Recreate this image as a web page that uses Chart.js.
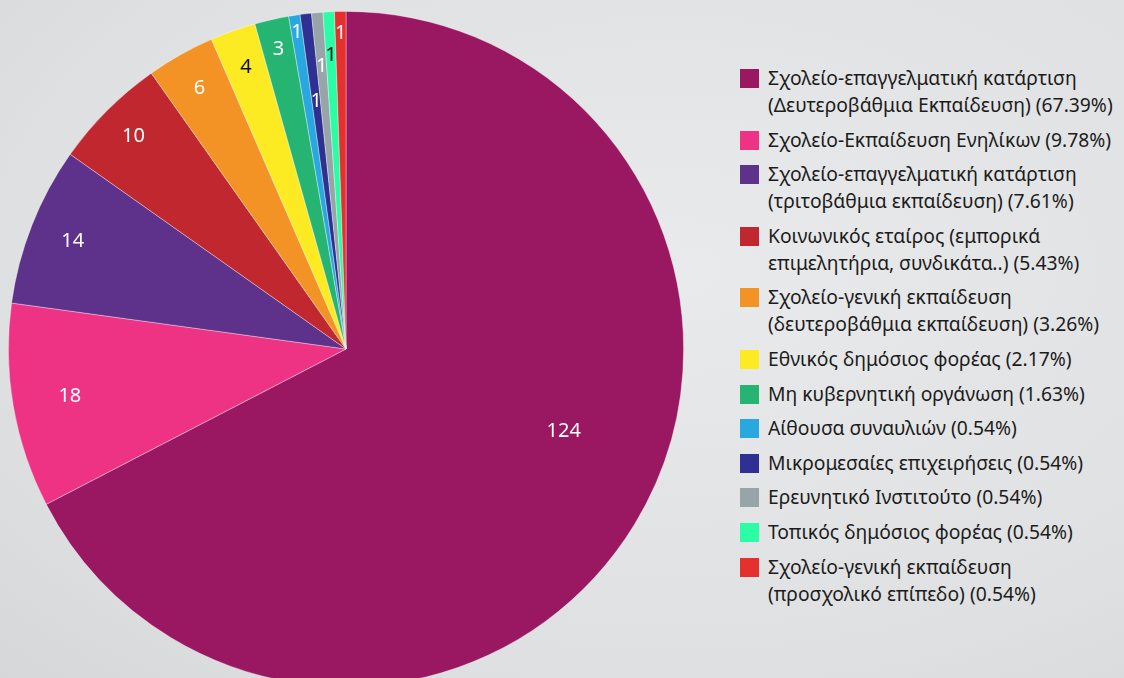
<!DOCTYPE html>
<html>
<head>
<meta charset="utf-8">
<script src="https://cdn.jsdelivr.net/npm/chart.js@4"></script>
<style>
  html,body{margin:0;padding:0;}
  body{width:1124px;height:678px;overflow:hidden;position:relative;
    background:radial-gradient(ellipse at 60% 40%, #e9eaeb 0%, #dfe0e1 70%, #d6d7d8 100%);
    font-family:"Noto Sans","DejaVu Sans",sans-serif;}
  #pieBox{position:absolute;left:8px;top:11px;width:676px;height:676px;}
  #legend{position:absolute;left:740px;top:64px;width:384px;color:#1c1c1c;font-size:19.3px;line-height:27px;}
  .item{display:flex;align-items:flex-start;margin-bottom:7.6px;}
  .box{width:19px;height:19px;flex:0 0 19px;margin-top:5px;margin-right:9px;}
</style>
</head>
<body>
<div id="pieBox"><canvas id="pie"></canvas></div>
<div id="legend"></div>
<script>
// ====== DATA ======
const categories = [
  ['Σχολείο-επαγγελματική κατάρτιση', '(Δευτεροβάθμια Εκπαίδευση)'],
  ['Σχολείο-Εκπαίδευση Ενηλίκων'],
  ['Σχολείο-επαγγελματική κατάρτιση', '(τριτοβάθμια εκπαίδευση)'],
  ['Κοινωνικός εταίρος (εμπορικά', 'επιμελητήρια, συνδικάτα..)'],
  ['Σχολείο-γενική εκπαίδευση', '(δευτεροβάθμια εκπαίδευση)'],
  ['Εθνικός δημόσιος φορέας'],
  ['Μη κυβερνητική οργάνωση'],
  ['Αίθουσα συναυλιών'],
  ['Μικρομεσαίες επιχειρήσεις'],
  ['Ερευνητικό Ινστιτούτο'],
  ['Τοπικός δημόσιος φορέας'],
  ['Σχολείο-γενική εκπαίδευση', '(προσχολικό επίπεδο)']
];
const counts = [124, 18, 14, 10, 6, 4, 3, 1, 1, 1, 1, 1];
const colors = ['#9a1762','#ee3385','#5e318a','#c1272f','#f39325','#fcea22',
                '#26b473','#29a8e0','#2e3192','#97a4a8','#2bfca6','#e5312d'];
const labelColors = ['#fff','#fff','#fff','#fff','#fff','#111','#fff','#fff','#fff','#fff','#111','#fff'];

// label placement: [angle shift in degrees, fraction of radius]
const labelPlace = [[-10.5,0.69],[0,0.83],[0,0.87],[0,0.89],[0,0.885],[0,0.885],
                    [0,0.91],[0,0.95],[0,0.74],[0,0.84],[0,0.87],[0,0.935]];

const total = counts.reduce((a,b)=>a+b,0);

// ====== VALUE LABELS ======
const valueLabels = {
  id:'valueLabels',
  afterDatasetsDraw(chart){
    const ctx = chart.ctx;
    const meta = chart.getDatasetMeta(0);
    ctx.save();
    ctx.font = '20px "Noto Sans", sans-serif';
    ctx.textAlign = 'center';
    ctx.textBaseline = 'middle';
    meta.data.forEach((arc,i)=>{
      const p = arc.getProps(['x','y','startAngle','endAngle','outerRadius'], true);
      const mid = (p.startAngle+p.endAngle)/2 + labelPlace[i][0]*Math.PI/180;
      const r = p.outerRadius*labelPlace[i][1];
      ctx.fillStyle = labelColors[i];
      ctx.fillText(String(counts[i]), p.x+Math.cos(mid)*r, p.y+Math.sin(mid)*r);
    });
    ctx.restore();
  }
};

// ====== CHART ======
const chart = new Chart(document.getElementById('pie'), {
  type:'pie',
  data:{
    labels: categories.map(c=>c.join(' ')),
    datasets:[{data:counts, backgroundColor:colors, borderColor:'rgba(255,255,255,0.45)', borderWidth:0.8}]
  },
  options:{
    responsive:true, maintainAspectRatio:false, animation:false,
    layout:{padding:0},
    plugins:{legend:{display:false}, tooltip:{enabled:false}}
  },
  plugins:[valueLabels]
});

// ====== LEGEND ======
const legend = document.getElementById('legend');
categories.forEach((c,i)=>{
  const pct = (counts[i]/total*100).toFixed(2)+'%';
  const lines = c.slice();
  lines[lines.length-1] += ' ('+pct+')';
  const div = document.createElement('div');
  div.className = 'item';
  div.innerHTML = `<span class="box" style="background:${colors[i]}"></span><span>${lines.join('<br>')}</span>`;
  legend.appendChild(div);
});
</script>
</body>
</html>
